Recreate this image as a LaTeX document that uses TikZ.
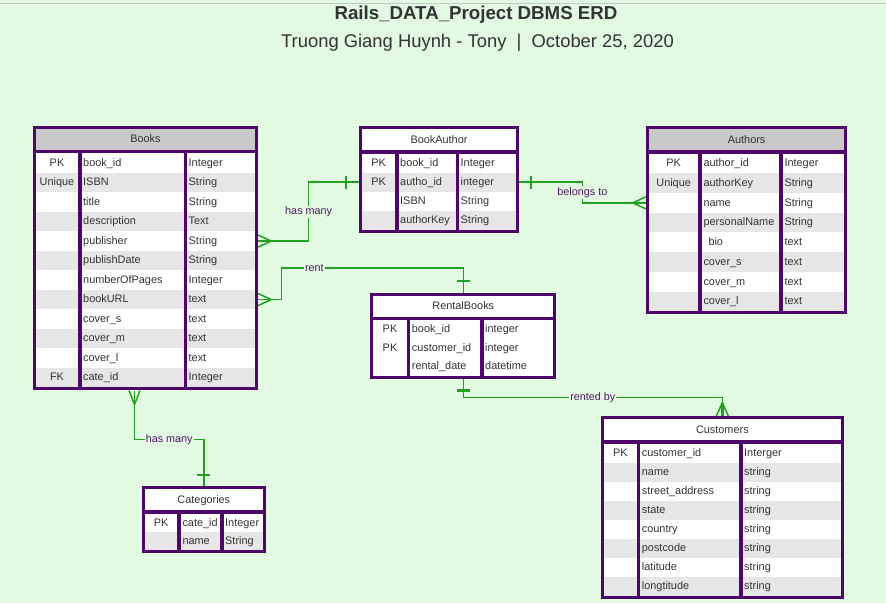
\documentclass[tikz,border=0pt]{standalone}
\usepackage{fontspec}
\setmainfont{Liberation Sans}
\usetikzlibrary{calc}
\usetikzlibrary{fit}

\definecolor{bgmint}{RGB}{226,250,226}
\definecolor{erdpurple}{RGB}{77,7,104}
\definecolor{linkgreen}{RGB}{34,160,34}
\definecolor{headgray}{RGB}{200,200,200}
\definecolor{rowgray}{RGB}{230,230,230}
\definecolor{inkgray}{RGB}{51,51,51}
\definecolor{labelpurple}{RGB}{78,24,100}

\tikzset{
  celltext/.style={inner sep=0pt, text height=7.8pt, text depth=1pt,
                   text=inkgray, font=\fontsize{10.9}{12}\selectfont},
  relline/.style={draw=linkgreen, line width=1.4pt},
  onebar/.style={draw=linkgreen, line width=2.6pt},
  crowfoot/.style={draw=linkgreen, line width=1.5pt},
  rellabel/.style={fill=bgmint, inner sep=1pt, text=labelpurple,
                   font=\fontsize{10.8}{12}\selectfont},
}

\pgfkeys{/erd/.cd,
  head/.store in=\erdhead, head=white,
  rowh/.store in=\erdrowh, rowh=19}

% one table: [head, rowh] name, x, y, column widths, title, rows
\newcommand{\erdtable}[9][]{%
  \begingroup
  \pgfkeys{/erd/.cd,#1}%
  \def\erdx{#3}\def\erdy{#4}%
  \def\erdwa{#5}\def\erdwb{#6}\def\erdwc{#7}%
  \pgfmathsetmacro\erdxb{\erdx+\erdwa+3.5}%
  \pgfmathsetmacro\erdxc{\erdxb+\erdwb+3.5}%
  \pgfmathsetmacro\erdw{\erdxc+\erdwc-\erdx}%
  % header
  \fill[\erdhead] (\erdx,\erdy) rectangle ++(\erdw,21);
  \node[celltext] (#2-head) at (\erdx+\erdw/2,\erdy+10.5) {#8};
  % rows
  \foreach \rowfill/\rkey/\rfield/\rtype [count=\i] in {#9} {
    \pgfmathsetmacro\rowtop{\erdy+24.3+(\i-1)*\erdrowh}
    \fill[\rowfill] (\erdx,\rowtop) rectangle ++(\erdw,\erdrowh);
    \node[celltext] (#2-k\i) at (\erdx+\erdwa/2,\rowtop+\erdrowh/2) {\rkey};
    \node[celltext, anchor=west] (#2-r\i) at (\erdxb+1.5,\rowtop+\erdrowh/2) {\rfield};
    \node[celltext, anchor=west] (#2-t\i) at (\erdxc+1.5,\rowtop+\erdrowh/2) {\rtype};
    \xdef\erdrows{\i}
  }
  \pgfmathsetmacro\erdh{24.3+\erdrows*\erdrowh}
  % frame and column bars
  \draw[erdpurple, line width=3.3pt] (\erdx,\erdy+22.65) -- ++(\erdw,0);
  \draw[erdpurple, line width=3.5pt]
    (\erdxb-1.75,\erdy+24.3) -- ++(0,\erdh-24.3)
    (\erdxc-1.75,\erdy+24.3) -- ++(0,\erdh-24.3);
  \draw[erdpurple, line width=3pt] (\erdx-1.5,\erdy-1.5) rectangle ++(\erdw+3,\erdh+3);
  \coordinate (#2-nw) at (\erdx-3,\erdy-3);
  \coordinate (#2-se) at (\erdx+\erdw+3,\erdy+\erdh+3);
  \node[fit=(#2-nw)(#2-se), inner sep=0pt] (#2) {};
  \endgroup}

\begin{document}
\begin{tikzpicture}[x=1pt, y=-1pt]
  \useasboundingbox (0,0) rectangle (886,603);
  \fill[bgmint] (0,0) rectangle (886,603);
  \draw[headgray, line width=1.3pt] (0,3.3) -- (886,3.3);

  \node[text=inkgray, font=\bfseries\fontsize{18.7}{22}\selectfont] (title) at (476,15)
    {Rails\_DATA\_Project DBMS ERD};
  \node[text=inkgray, font=\fontsize{18.4}{22}\selectfont] (subtitle) at (477.5,43)
    {Truong Giang Huynh - Tony\ \ |\ \ October 25, 2020};

  % tables
  \erdtable[head=headgray, rowh=19.5]{books}{36}{129}{42}{102}{68}{Books}{
    white/PK/book\_id/Integer, rowgray/Unique/ISBN/String,
    white/{}/title/String, rowgray/{}/description/Text,
    white/{}/publisher/String, rowgray/{}/publishDate/String,
    white/{}/numberOfPages/Integer, rowgray/{}/bookURL/text,
    white/{}/cover\_s/text, rowgray/{}/cover\_m/text,
    white/{}/cover\_l/text, rowgray/FK/cate\_id/Integer}
  \erdtable[rowh=19]{bookauthor}{362.3}{129.3}{32.7}{57}{56.7}{BookAuthor}{
    white/PK/book\_id/Integer, rowgray/PK/autho\_id/integer,
    white/{}/ISBN/String, rowgray/{}/authorKey/String}
  \erdtable[head=headgray, rowh=19.7]{authors}{649}{129.3}{49.3}{77.5}{61.5}{Authors}{
    white/PK/author\_id/Integer, rowgray/Unique/authorKey/String,
    white/{}/name/String, rowgray/{}/personalName/String,
    white/{}/\hspace{5pt}bio/text, rowgray/{}/cover\_s/text,
    white/{}/cover\_m/text, rowgray/{}/cover\_l/text}
  \erdtable[rowh=18.5]{rentalbooks}{373.3}{296}{33.4}{69.8}{69.8}{RentalBooks}{
    white/PK/book\_id/integer, white/PK/customer\_id/integer,
    white/{}/rental\_date/datetime}
  \erdtable[rowh=19.05]{customers}{604}{419.3}{32.7}{98.8}{98.2}{Customers}{
    white/PK/customer\_id/Interger, rowgray/{}/name/string,
    white/{}/street\_address/string, rowgray/{}/state/string,
    white/{}/country/string, rowgray/{}/postcode/string,
    white/{}/latitude/string, rowgray/{}/longtitude/string}
  \erdtable[rowh=18]{categories}{145}{489.3}{32.3}{39.2}{39.2}{Categories}{
    white/PK/cate\_id/Integer, rowgray/{}/name/String}

  % books -- bookauthor
  \coordinate (bk-ba) at (books.east |- books-r5);
  \coordinate (ba-bk) at (bookauthor.west |- bookauthor-r2);
  \coordinate (bend-ba) at ($(books.east)!0.5!(bookauthor.west)$);
  \draw[relline] (bk-ba) -| node[rellabel, pos=0.75] (lbl-ba) {has many}
    (bend-ba |- ba-bk) -- (ba-bk);
  \draw[crowfoot] (bk-ba) ++(13,0) -- ++(-13,-6) ++(13,6) -- ++(-13,6);
  \draw[onebar] (ba-bk) ++(-13,-6.5) -- ++(0,13);

  % books -- rentalbooks
  \coordinate (bk-rb) at (books.east |- books-r8);
  \draw[relline] (bk-rb) -| ++(23.5,-31.5)
    -| node[rellabel, pos=0.09] (lbl-rb) {rent} (rentalbooks.north);
  \draw[crowfoot] (bk-rb) ++(13,0) -- ++(-13,-6) ++(13,6) -- ++(-13,6);
  \draw[onebar] (rentalbooks.north) ++(-6.5,-12) -- ++(13,0);

  % bookauthor -- authors
  \coordinate (ba-au) at (bookauthor.east |- bookauthor-r2);
  \coordinate (au-ba) at (authors.west |- authors-r3);
  \coordinate (bend-au) at ($(bookauthor.east)!0.5!(authors.west)$);
  \draw[relline] (ba-au) -| node[rellabel, pos=0.75] (lbl-au) {belongs to}
    (bend-au |- au-ba) -- (au-ba);
  \draw[onebar] (ba-au) ++(12,-6.5) -- ++(0,13);
  \draw[crowfoot] (au-ba) ++(-13,0) -- ++(13,-6) ++(-13,6) -- ++(13,6);

  % books -- categories
  \coordinate (bk-cat) at ([xshift=-11pt]books.south);
  \draw[relline] (bk-cat) -- ++(0,49)
    -| node[rellabel, pos=0.25] (lbl-cat) {has many} (categories.north);
  \draw[crowfoot] (bk-cat) ++(0,14) -- ++(-5.5,-14) ++(5.5,14) -- ++(5.5,-14);
  \draw[onebar] (categories.north) ++(-6.5,-11) -- ++(13,0);

  % rentalbooks -- customers
  \draw[relline] (rentalbooks.south) -- ++(0,18.5)
    -| node[rellabel, pos=0.25] (lbl-cu) {rented by} (customers.north);
  \draw[onebar] (rentalbooks.south) ++(-6.5,11.5) -- ++(13,0);
  \draw[crowfoot] (customers.north) ++(0,-13.5) -- ++(-6,13.5) ++(6,-13.5) -- ++(6,13.5);
  \draw[onebar] (customers.north) -- ++(0,-13.5);
\end{tikzpicture}
\end{document}
